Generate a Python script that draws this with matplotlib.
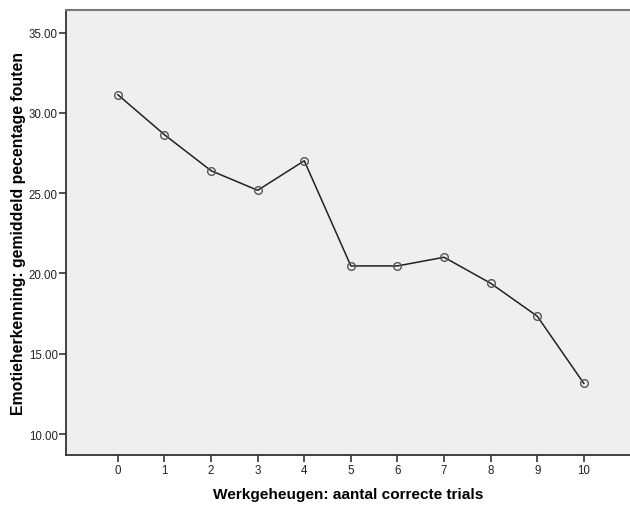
import matplotlib
matplotlib.use('Agg')
import matplotlib.pyplot as plt
import matplotlib.ticker as ticker

# aantal correcte trials en gemiddeld percentage fouten
trials = [0, 1, 2, 3, 4, 5, 6, 7, 8, 9, 10]
fouten = [31.13, 28.64, 26.40, 25.18, 27.02, 20.47, 20.47, 21.01, 19.39, 17.34, 13.15]
y_ticks = [10, 15, 20, 25, 30, 35]

plt.rcParams['font.family'] = ['Liberation Sans', 'DejaVu Sans']

fig = plt.figure(figsize=(6.3, 5.06), dpi=100)
ax = fig.add_axes([0.105, 0.098, 0.895, 0.880])
ax.set_facecolor('#efefef')

ax.plot(trials, fouten, color='#222222', linewidth=1.1, marker='o',
        markersize=5.5, markerfacecolor='none', markeredgecolor='#555555',
        markeredgewidth=1.0)

ax.set_xlim(-1.11, 10.99)
ax.set_ylim(8.67, 36.4)
ax.set_xticks(trials)
ax.set_yticks(y_ticks)
ax.yaxis.set_major_formatter(ticker.StrMethodFormatter('{x:.2f}'))
ax.tick_params(direction='out', length=5, width=1.2, color='#333333',
               labelsize=8.3, labelcolor='#222222', pad=1)

ax.spines['right'].set_visible(False)
ax.spines['top'].set_color('#777777')
ax.spines['top'].set_linewidth(1.5)
for s in ['left', 'bottom']:
    ax.spines[s].set_color('#333333')
    ax.spines[s].set_linewidth(1.3)

ax.set_xlabel('Werkgeheugen: aantal correcte trials', fontsize=11.1,
              fontweight='bold', labelpad=8)
ax.set_ylabel('Emotieherkenning: gemiddeld pecentage fouten', fontsize=11.4,
              fontweight='bold', labelpad=2)

fig.savefig('out.png', dpi=100)
